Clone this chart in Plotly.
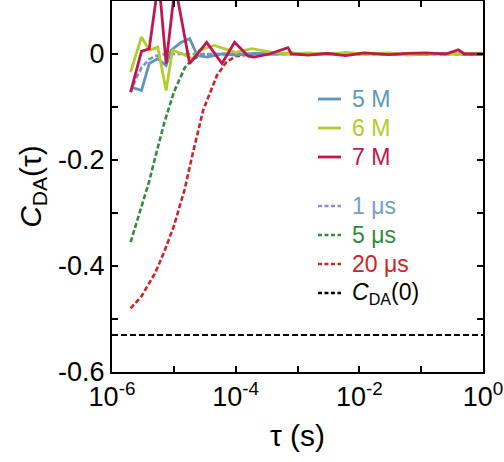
import plotly.graph_objects as go

# ---- data ----
tau_5M = [2.1e-6, 3e-6, 4e-6, 5.5e-6, 7.5e-6, 9e-6, 1.3e-5, 1.8e-5, 2.4e-5, 3.5e-5, 6e-5, 1e-4, 2e-4,
          4e-4, 8e-4, 1.5e-3, 3e-3, 6e-3, 1.2e-2, 3e-2, 6e-2, 0.12, 0.25, 0.5, 1.0]
val_5M = [-0.063, -0.069, -0.018, -0.009, -0.022, 0.007, 0.022, 0.029, -0.003, -0.006, 0.0, -0.002, 0.001,
          0.0, 0.002, -0.001, 0.001, 0.0, 0.001, 0.0, -0.001, 0.0, 0.001, 0.0, 0.0]

tau_6M = [2e-6, 3e-6, 4e-6, 5.5e-6, 7.5e-6, 9.5e-6, 1.4e-5, 2e-5, 2.6e-5, 4.5e-5, 1e-4, 1.8e-4, 4e-4,
          8e-4, 1.5e-3, 3e-3, 6e-3, 1.2e-2, 3e-2, 6e-2, 0.12, 0.25, 0.5, 1.0]
val_6M = [-0.034, 0.032, 0.007, 0.013, -0.069, 0.007, 0.0, -0.009, 0.007, 0.016, 0.003, 0.010, 0.003,
          0.0, 0.002, -0.001, 0.003, 0.0, 0.002, -0.002, 0.001, 0.0, 0.001, 0.0]

tau_7M = [2e-6, 3e-6, 4e-6, 5.7e-6, 7.5e-6, 1.05e-5, 1.8e-5, 3.4e-5, 6e-5, 9.6e-5, 1.6e-4, 2e-4, 3.5e-4,
          7e-4, 8e-4, 1.5e-3, 3e-3, 6e-3, 1.2e-2, 3e-2, 6e-2, 0.12, 0.25, 0.4, 0.5, 1.0]
val_7M = [-0.072, 0.005, 0.01, 0.14, -0.018, 0.13, -0.018, 0.022, -0.018, 0.022, -0.004, -0.006, 0.0,
          0.012, 0.0, -0.002, 0.001, -0.003, 0.002, -0.001, 0.001, 0.002, 0.0, 0.008, 0.0, 0.0]

tau_1us = [2e-6, 2.5e-6, 3e-6, 4e-6, 5e-6, 7e-6, 1e-5, 2e-5, 1e-4, 1e-3, 1e-2, 0.1, 1.0]
val_1us = [-0.072, -0.044, -0.026, -0.010, -0.004, -0.0005, 0.0, 0.0, 0.0, 0.0, 0.0, 0.0, 0.0]

tau_5us = [2e-6, 3e-6, 4e-6, 5e-6, 7e-6, 1e-5, 1.5e-5, 2e-5, 3e-5, 5e-5, 1e-4, 1e-3, 1e-2, 0.1, 1.0]
val_5us = [-0.355, -0.29, -0.24, -0.195, -0.13, -0.072, -0.026, -0.010, -0.001, 0.0, 0.0, 0.0, 0.0, 0.0, 0.0]

tau_20us = [2e-6, 3e-6, 5e-6, 7e-6, 1e-5, 1.5e-5, 2e-5, 3e-5, 5e-5, 7e-5, 1e-4, 2e-4, 1e-3, 1e-2, 0.1, 1.0]
val_20us = [-0.48, -0.457, -0.413, -0.373, -0.325, -0.255, -0.19, -0.105, -0.040, -0.016, -0.004, 0.0,
            0.0, 0.0, 0.0, 0.0]

tau_c0 = [1e-6, 1.0]
val_c0 = [-0.53, -0.53]

x_tickvals = [1e-6, 1e-5, 1e-4, 1e-3, 1e-2, 1e-1, 1.0]
x_ticktext = ["10<sup>-6</sup>", "", "10<sup>-4</sup>", "", "10<sup>-2</sup>", "", "10<sup>0</sup>"]
y_tickvals = [-0.6, -0.5, -0.4, -0.3, -0.2, -0.1, 0.0]
y_ticktext = ["-0.6", "", "-0.4", "", "-0.2", "", "0"]

legend_labels = ["5 M", "6 M", "7 M", "1 μs", "5 μs", "20 μs", "<i>C</i><sub>DA</sub>(0)"]

C_5M, C_6M, C_7M = "#5e98b9", "#b4cc2c", "#c0174f"
C_1, C_5, C_20 = "#7f8fd6", "#2e8c3c", "#cc2229"
T_1 = "#72a0c6"

W, H = 504, 462
ML, MR, MT, MB = 112, 21, 1, 90
PW, PH = W - ML - MR, H - MT - MB

fig = go.Figure()

DASH_C = "5px,2.5px"
fig.add_trace(go.Scatter(x=tau_c0, y=val_c0, mode="lines", line=dict(color="black", width=2, dash="6px,3px")))
fig.add_trace(go.Scatter(x=tau_20us, y=val_20us, mode="lines", line=dict(color=C_20, width=2.6, dash=DASH_C)))
fig.add_trace(go.Scatter(x=tau_5us, y=val_5us, mode="lines", line=dict(color=C_5, width=2.6, dash=DASH_C)))
fig.add_trace(go.Scatter(x=tau_1us, y=val_1us, mode="lines", line=dict(color=C_1, width=2.6, dash=DASH_C)))
fig.add_trace(go.Scatter(x=tau_5M, y=val_5M, mode="lines", line=dict(color=C_5M, width=2.8)))
fig.add_trace(go.Scatter(x=tau_6M, y=val_6M, mode="lines", line=dict(color=C_6M, width=2.8)))
fig.add_trace(go.Scatter(x=tau_7M, y=val_7M, mode="lines", line=dict(color=C_7M, width=2.8)))

# ---- manual legend (positions in pixels converted to paper coords) ----
def px_x(x):
    return (x - ML) / PW

def px_y(y):
    return 1 - (y - MT) / PH

leg_rows = [99, 128, 157, 206, 235, 264, 293]
leg_line_colors = [C_5M, C_6M, C_7M, C_1, C_5, C_20, "black"]
leg_text_colors = [C_5M, C_6M, C_7M, T_1, C_5, C_20, "black"]
leg_dash = ["solid", "solid", "solid", "4px,2.5px", "4px,2.5px", "4px,2.5px", "4px,2.5px"]
shapes, annots = [], []
for lab, yy, lc, tc, ds in zip(legend_labels, leg_rows, leg_line_colors, leg_text_colors, leg_dash):
    shapes.append(dict(type="line", xref="paper", yref="paper", x0=px_x(318), x1=px_x(341),
                       y0=px_y(yy), y1=px_y(yy), line=dict(color=lc, width=2.8 if ds == "solid" else 2.4, dash=ds)))
    annots.append(dict(xref="paper", yref="paper", x=px_x(350), y=px_y(yy), xanchor="left", yanchor="middle",
                       text=lab, showarrow=False, font=dict(size=23, color=tc)))

axis_common = dict(showline=True, linecolor="black", linewidth=2, mirror="ticks", ticks="inside",
                   ticklen=6, tickwidth=1.5, tickcolor="black", showgrid=False, zeroline=False,
                   automargin=False, tickfont=dict(size=27, color="black"))

fig.update_xaxes(type="log", range=[-6, 0], tickvals=x_tickvals, ticktext=x_ticktext,
                 title=dict(text="τ (s)", font=dict(size=30, color="black"), standoff=14), **axis_common)
fig.update_yaxes(range=[-0.6, 0.1], tickvals=y_tickvals, ticktext=y_ticktext,
                 title=dict(text="<i>C</i><sub>DA</sub>(τ)", font=dict(size=30, color="black"), standoff=8),
                 **axis_common)

fig.update_layout(
    width=W, height=H,
    margin=dict(l=ML, r=MR, t=MT, b=MB, autoexpand=False),
    paper_bgcolor="white", plot_bgcolor="white",
    font=dict(family="Liberation Sans, Arial, sans-serif", color="black"),
    showlegend=False, shapes=shapes, annotations=annots,
)

fig.write_html("out.html", config={"displayModeBar": False},
               post_script="document.body.style.margin='0';")
